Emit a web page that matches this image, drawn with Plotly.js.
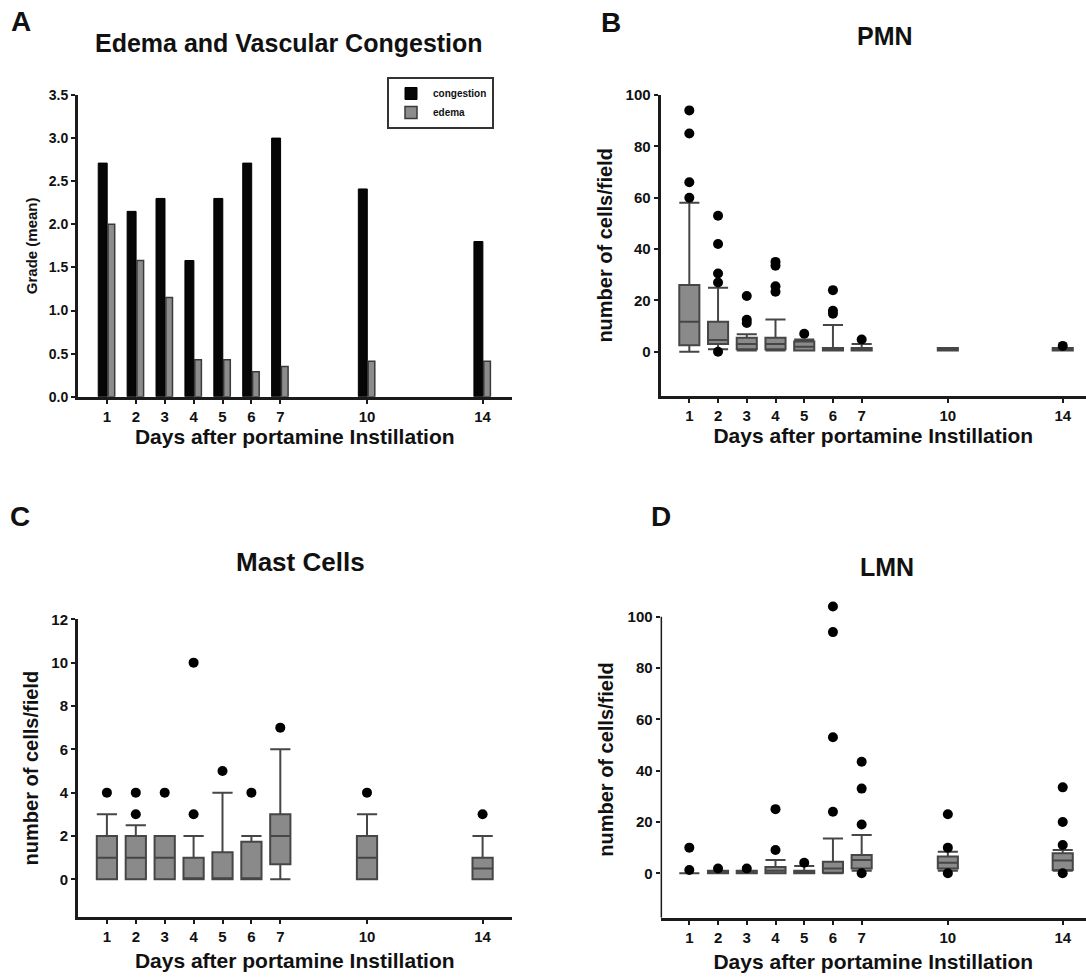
<!DOCTYPE html>
<html>
<head>
<meta charset="utf-8">
<script src="https://cdn.plot.ly/plotly-3.0.1.min.js"></script>
<style>html,body{margin:0;padding:0;background:#fff;}#chart{width:1086px;height:977px;}</style>
</head>
<body>
<div id="chart"></div>
<script>
// ---------- data ----------
const days = [1, 2, 3, 4, 5, 6, 7, 10, 14];
const dayLabels = ['1', '2', '3', '4', '5', '6', '7', '10', '14'];

// Panel A: Edema and Vascular Congestion (grade, mean)
const congestion = [2.71, 2.15, 2.30, 1.58, 2.30, 2.71, 3.00, 2.41, 1.80];
const edema = [2.00, 1.58, 1.15, 0.43, 0.43, 0.29, 0.35, 0.41, 0.41];

// Panel B: PMN (cells/field)
const pmnQ1 = [2.5, 3.0, 1.0, 1.0, 0.5, 0.5, 0.5, 0.5, 0.5];
const pmnMedian = [11.7, 4.6, 3.0, 3.0, 2.0, 1.0, 1.0, 1.0, 1.0];
const pmnQ3 = [26.0, 11.7, 5.5, 5.5, 4.0, 1.5, 1.5, 1.5, 1.5];
const pmnLow = [0, 1.0, 0.5, 0.5, 0.5, 0.5, 0.5, 0.5, 0.5];
const pmnHigh = [58, 24.9, 6.8, 12.6, 4.8, 10.4, 3.0, 1.5, 1.5];
const pmnOutDay = [1, 1, 1, 1, 2, 2, 2, 2, 2, 3, 3, 3, 4, 4, 4, 4, 5, 6, 6, 6, 7, 14];
const pmnOutVal = [94, 85, 66, 60, 53, 42, 30.5, 27, 0, 21.7, 12.5, 11.2, 35, 33.5, 25.5, 23.4, 7, 24, 16, 14.8, 4.8, 2.3];

// Panel C: Mast cells (cells/field)
const mastQ1 = [0, 0, 0, 0, 0, 0, 0.7, 0, 0];
const mastMedian = [1, 1, 1, 0, 0, 0, 2, 1, 0.5];
const mastQ3 = [2, 2, 2, 1, 1.25, 1.73, 3, 2, 1];
const mastLow = [0, 0, 0, 0, 0, 0, 0, 0, 0];
const mastHigh = [3, 2.5, 2, 2, 4, 2, 6, 3, 2];
const mastOutDay = [1, 2, 2, 3, 4, 4, 5, 6, 7, 10, 14];
const mastOutVal = [4, 3, 4, 4, 3, 10, 5, 4, 7, 4, 3];

// Panel D: LMN (cells/field)
const lmnQ1 = [0, 0, 0, 0, 0, 0.2, 1.9, 1.9, 1.3];
const lmnMedian = [0, 0, 0, 1, 0, 1.9, 5.2, 4.1, 5.0];
const lmnQ3 = [0, 1, 1, 2.5, 1, 4.5, 7.1, 6.5, 7.8];
const lmnLow = [0, 0, 0, 0, 0, 0, 1, 1, 1];
const lmnHigh = [0, 1, 1, 5.2, 2.8, 13.6, 14.9, 8.4, 9.1];
const lmnOutDay = [1, 1, 2, 3, 4, 4, 5, 6, 6, 6, 6, 7, 7, 7, 7, 10, 10, 10, 14, 14, 14, 14];
const lmnOutVal = [10, 1.3, 1.9, 1.9, 25, 9.1, 4.1, 104, 94, 53, 24, 43.5, 33, 19, 0, 23, 10, 0, 33.5, 20, 11, 0];

// ---------- styling / layout ----------
const W = 1086, H = 977;
const F = 'Liberation Sans, Arial, Helvetica, sans-serif';
const INK = '#1b1b1b';
const px = v => v / W;
const py = v => 1 - v / H;

const xTitle = 'Days after portamine Instillation';
const yTitleCells = 'number of cells/field';

function xAxis(x0, x1, range, anchor, standoff) {
  return {
    domain: [px(x0), Math.min(1, px(x1))], range: range, anchor: anchor,
    tickvals: days, ticktext: dayLabels,
    showline: true, linewidth: 3, linecolor: INK,
    ticks: 'outside', ticklen: 4, tickwidth: 2, tickcolor: INK,
    showgrid: false, zeroline: false, fixedrange: true,
    tickfont: {family: F, size: 15, color: '#111', weight: 'bold'},
    title: {text: xTitle, font: {family: F, size: 21, color: '#111', weight: 'bold'}, standoff: standoff}
  };
}
function yAxis(top, bottom, range, anchor, tickvals, ticktext, title, tsize, fsize, showline) {
  return {
    domain: [py(bottom), py(top)], range: range, anchor: anchor,
    tickvals: tickvals, ticktext: ticktext,
    showline: showline, linewidth: 3, linecolor: INK,
    ticks: 'outside', ticklen: 4, tickwidth: 2, tickcolor: INK,
    showgrid: false, zeroline: false, fixedrange: true,
    tickfont: {family: F, size: fsize, color: '#111', weight: 'bold'},
    title: {text: title, font: {family: F, size: tsize, color: '#111', weight: 'bold'}, standoff: 8}
  };
}

const boxStyle = {
  type: 'box', boxpoints: false, width: 0.7, whiskerwidth: 1,
  fillcolor: '#8a8a8a', line: {color: '#464646', width: 2},
  showlegend: false, hoverinfo: 'skip'
};
const outStyle = {
  type: 'scatter', mode: 'markers', cliponaxis: false,
  marker: {size: 10, color: '#000'}, showlegend: false, hoverinfo: 'skip'
};

const traces = [
  {type: 'bar', name: 'congestion', x: days, y: congestion, width: 0.31, offset: -0.30,
   marker: {color: '#060606', line: {color: '#000', width: 1}}, xaxis: 'x', yaxis: 'y'},
  {type: 'bar', name: 'edema', x: days, y: edema, width: 0.23, offset: 0.04,
   marker: {color: '#8c8c8c', line: {color: '#3a3a3a', width: 1.5}}, xaxis: 'x', yaxis: 'y'},

  Object.assign({}, boxStyle, {x: days, q1: pmnQ1, median: pmnMedian, q3: pmnQ3,
    lowerfence: pmnLow, upperfence: pmnHigh, xaxis: 'x2', yaxis: 'y2'}),
  Object.assign({}, outStyle, {x: pmnOutDay, y: pmnOutVal, xaxis: 'x2', yaxis: 'y2'}),

  Object.assign({}, boxStyle, {x: days, q1: mastQ1, median: mastMedian, q3: mastQ3,
    lowerfence: mastLow, upperfence: mastHigh, xaxis: 'x3', yaxis: 'y3'}),
  Object.assign({}, outStyle, {x: mastOutDay, y: mastOutVal, xaxis: 'x3', yaxis: 'y3'}),

  Object.assign({}, boxStyle, {x: days, q1: lmnQ1, median: lmnMedian, q3: lmnQ3,
    lowerfence: lmnLow, upperfence: lmnHigh, xaxis: 'x4', yaxis: 'y4'}),
  Object.assign({}, outStyle, {x: lmnOutDay, y: lmnOutVal, xaxis: 'x4', yaxis: 'y4'})
];

const gradeTicks = [0, 0.5, 1, 1.5, 2, 2.5, 3, 3.5];
const gradeLabels = gradeTicks.map(v => v.toFixed(1));
const cellTicks = [0, 20, 40, 60, 80, 100];
const mastTicks = [0, 2, 4, 6, 8, 10, 12];

function ann(text, x, y, size) {
  return {text: text, xref: 'paper', yref: 'paper', x: px(x), y: py(y),
    xanchor: 'center', yanchor: 'middle', showarrow: false,
    font: {family: F, size: size, color: '#111', weight: 'bold'}};
}

// Panel D: the axis range reaches 106 so the day-6 outlier above 100 stays visible,
// while the drawn y-axis line stops at 100 as in the original.
const lmnYMin = -17.3, lmnYMax = 106, lmnTop100 = 616.7, lmnPxPerUnit = 2.566;

const layout = {
  width: W, height: H, margin: {l: 0, r: 0, t: 0, b: 0},
  paper_bgcolor: '#fff', plot_bgcolor: 'rgba(0,0,0,0)',
  barmode: 'overlay', showlegend: true,
  legend: {x: px(387), y: py(77), xanchor: 'left', yanchor: 'top',
    bgcolor: '#fff', bordercolor: '#333', borderwidth: 2, itemwidth: 34,
    font: {family: F, size: 10, color: '#111', weight: 'bold'}, tracegroupgap: 0},
  xaxis: xAxis(78, 511.5, [0, 15], 'y', 6),
  yaxis: yAxis(95, 396.7, [0, 3.5], 'x', gradeTicks, gradeLabels, 'Grade (mean)', 15, 14, true),
  xaxis2: xAxis(660.6, 1086, [0, 14.81], 'y2', 6),
  yaxis2: yAxis(95, 395.7, [-17.1, 100], 'x2', cellTicks, cellTicks.map(String), yTitleCells, 20, 15, true),
  xaxis3: xAxis(78, 511.5, [0, 15], 'y3', 10),
  yaxis3: yAxis(619.3, 917, [-1.74, 12], 'x3', mastTicks, mastTicks.map(String), yTitleCells, 20, 15, true),
  xaxis4: xAxis(660.6, 1086, [0, 14.81], 'y4', 10),
  yaxis4: yAxis(lmnTop100 - (lmnYMax - 100) * lmnPxPerUnit, 917.7, [lmnYMin, lmnYMax], 'x4',
    cellTicks, cellTicks.map(String), yTitleCells, 20, 15, false),
  shapes: [
    {type: 'line', xref: 'x4', yref: 'y4', x0: 0, x1: 0, y0: lmnYMin, y1: 100,
     line: {color: INK, width: 3}, layer: 'above'}
  ],
  annotations: [
    ann('A', 21, 22, 28), ann('B', 611, 23, 28), ann('C', 20, 516, 28), ann('D', 661, 516, 28),
    ann('Edema and Vascular Congestion', 289, 43, 25),
    ann('PMN', 885, 36, 25),
    ann('Mast Cells', 300, 562, 26),
    ann('LMN', 887, 567, 25)
  ]
};

Plotly.newPlot('chart', traces, layout, {staticPlot: true, displayModeBar: false});
</script>
</body>
</html>
